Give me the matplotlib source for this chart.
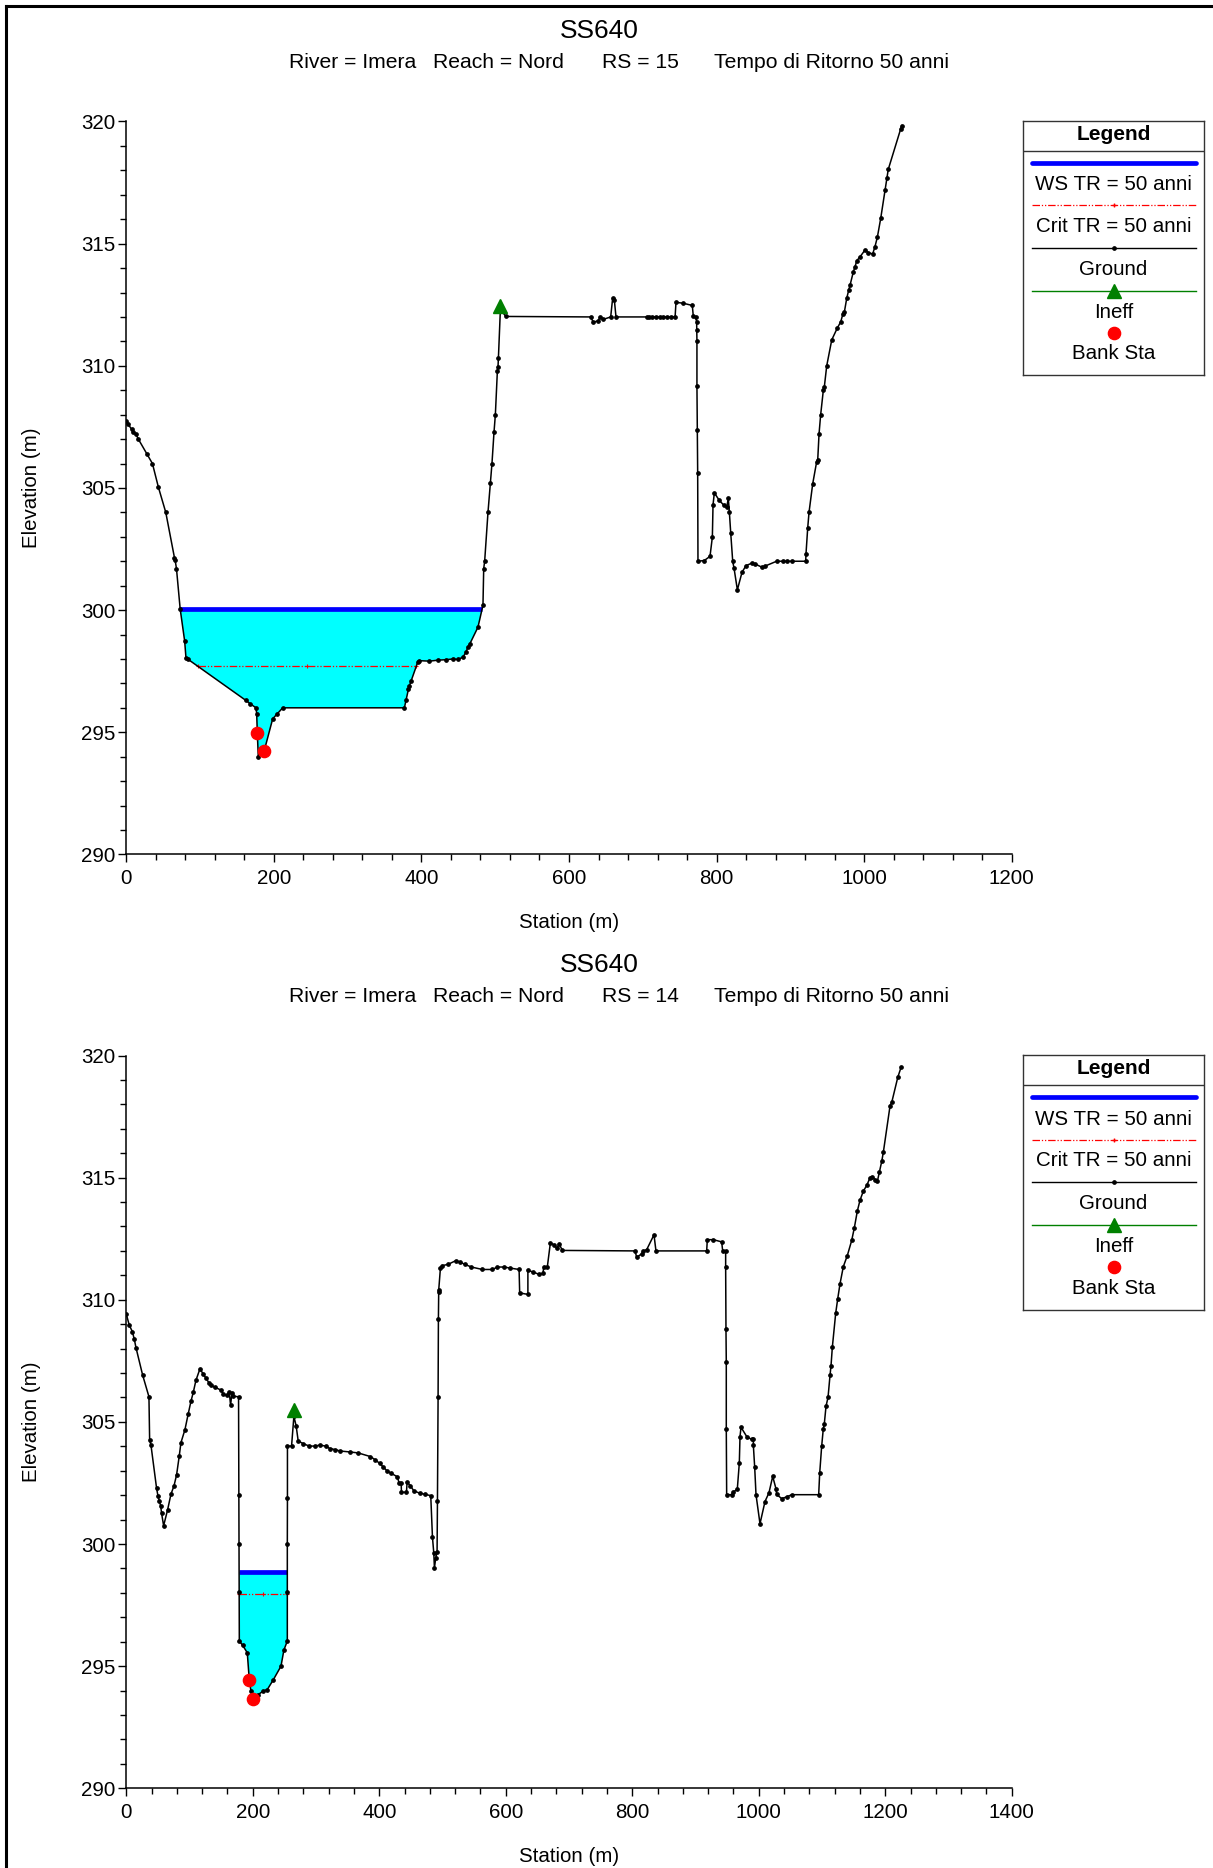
import numpy as np
import matplotlib
matplotlib.use("Agg")
import matplotlib.pyplot as plt
from matplotlib.lines import Line2D
from matplotlib.ticker import MultipleLocator

plt.rcParams['font.family'] = ['Liberation Sans', 'DejaVu Sans']

# ---------------- data ----------------
title = "SS640"
river_txt = "River = Imera"
reach_txt = "Reach = Nord"
event_txt = "Tempo di Ritorno 50 anni"
rs_labels = ["RS = 15", "RS = 14"]

legend_labels = ["WS TR = 50 anni", "Crit TR = 50 anni", "Ground", "Ineff", "Bank Sta"]

# RS 15 ground (station, elevation)
st15 = [0, 2.7, 7.3, 9.5, 13.2, 16.3, 27.7, 35.4, 43.5, 53.5, 65.3, 66.2, 68.0, 73.0,
        79.1, 80.9, 83.0, 162.2, 167.7, 175.8, 176.7, 177.6, 178.9, 187.0, 198.4, 204.7,
        212.0, 376.9, 379.1, 382.3, 383.7, 386.0, 395.0, 397.2, 410.9, 422.2, 433.6,
        442.6, 449.4, 456.2, 460.8, 463.0, 465.3, 476.6, 483.4, 484.4, 485.7, 490.2,
        493.4, 495.6, 498.4, 500.2, 502.9, 503.8, 504.3, 507.0, 514.6, 629.4, 633.0,
        639.8, 642.0, 646.5, 656.5, 659.2, 661.4, 663.7, 705.3, 708.0, 713.0, 718.0,
        723.0, 728.0, 733.0, 738.0, 743.8, 745.0, 754.9, 767.1, 768.5, 771.7, 773.0,
        773.2, 773.4, 773.4, 773.9, 774.4, 774.8, 783.4, 791.1, 794.3, 795.2, 797.0,
        803.7, 810.0, 813.7, 815.9, 817.3, 819.2, 821.9, 823.6, 828.2, 834.5, 839.9,
        847.6, 852.1, 861.1, 865.6, 881.4, 890.5, 896.0, 901.8, 920.8, 921.2, 923.5,
        925.3, 930.3, 935.7, 937.1, 938.9, 941.1, 944.7, 946.1, 949.3, 956.1, 963.7,
        968.3, 971.0, 973.2, 976.4, 979.1, 980.9, 985.4, 987.7, 990.0, 994.4, 1001.2,
        1005.7, 1011.6, 1014.7, 1017.9, 1022.5, 1028.3, 1031.0, 1032.7, 1049.5, 1050.9]
el15 = [307.74, 307.6, 307.4, 307.3, 307.2, 307.0, 306.4, 306.0, 305.03, 304.0, 302.14,
        302.04, 301.7, 300.05, 298.73, 298.03, 298.0, 296.3, 296.17, 296.0, 295.76,
        294.95, 293.98, 294.25, 295.55, 295.76, 296.0, 296.0, 296.3, 296.75, 296.9,
        297.1, 297.87, 297.93, 297.91, 297.95, 297.97, 298.0, 297.98, 298.07, 298.3,
        298.5, 298.6, 299.3, 300.2, 301.7, 302.0, 304.0, 305.2, 306.0, 307.3, 308.0,
        309.77, 309.97, 310.3, 312.3, 312.02, 312.0, 311.78, 311.85, 312.0, 311.9,
        312.0, 312.78, 312.71, 312.0, 312.0, 312.0, 312.0, 312.0, 312.0, 312.0, 312.0,
        312.0, 312.0, 312.6, 312.56, 312.47, 312.02, 312.0, 311.8, 311.46, 311.02,
        309.19, 307.39, 305.62, 302.0, 302.03, 302.2, 302.99, 304.31, 304.8, 304.49,
        304.29, 304.2, 304.57, 304.03, 303.15, 301.99, 301.73, 300.83, 301.55, 301.82,
        301.92, 301.89, 301.76, 301.8, 302.0, 302.0, 302.0, 302.0, 302.0, 302.3,
        303.35, 304.0, 305.17, 306.08, 306.15, 307.22, 308.0, 309.0, 309.15, 310.0,
        311.06, 311.55, 311.8, 312.1, 312.2, 312.76, 313.1, 313.3, 313.85, 314.06,
        314.3, 314.46, 314.74, 314.63, 314.58, 314.88, 315.26, 316.04, 317.18, 317.7,
        318.04, 319.7, 319.83]

# RS 14 ground
st14 = [0, 4.7, 9.5, 12.6, 15.3, 25.8, 35.8, 36.9, 39.0, 47.9, 50.0, 52.1, 54.3, 55.8,
        59.0, 65.3, 70.6, 75.4, 79.5, 83.7, 86.4, 92.7, 98.0, 102.2, 105.9, 110.1,
        116.4, 121.7, 125.9, 130.6, 133.2, 140.1, 149.1, 153.3, 158.5, 162.8, 164.9,
        167.0, 169.1, 177.5, 178.0, 178.3, 178.5, 178.7, 184.0, 191.3, 194.5, 197.2,
        200.8, 208.7, 216.6, 222.9, 232.4, 244.6, 249.2, 254.6, 254.6, 254.6, 254.8,
        254.8, 261.3, 265.0, 268.6, 271.8, 279.7, 289.2, 298.1, 306.0, 315.0, 321.8,
        329.7, 337.6, 353.4, 366.6, 386.1, 392.9, 400.8, 406.1, 412.4, 419.3, 428.8,
        431.4, 434.6, 435.1, 443.0, 444.0, 449.3, 454.6, 464.0, 471.9, 481.4, 484.1,
        486.2, 487.2, 489.3, 491.4, 492.0, 493.0, 493.5, 494.0, 494.0, 496.7, 499.9,
        508.8, 520.9, 527.3, 535.2, 545.7, 563.1, 578.9, 586.8, 597.3, 606.3, 621.1,
        622.0, 635.0, 635.0, 643.1, 652.6, 658.9, 660.0, 665.7, 670.5, 675.8, 681.1,
        684.2, 689.5, 804.4, 807.0, 814.9, 817.5, 822.8, 834.4, 837.5, 917.7, 918.7,
        928.2, 941.4, 943.0, 947.7, 947.7, 948.2, 948.7, 948.7, 949.3, 957.2, 959.8,
        966.1, 969.3, 970.4, 972.0, 981.0, 988.9, 991.5, 991.5, 993.6, 995.7, 1002.0,
        1009.9, 1016.2, 1022.1, 1027.3, 1028.4, 1036.3, 1044.2, 1052.1, 1094.8, 1096.4,
        1099.5, 1102.1, 1103.7, 1106.4, 1109.6, 1112.7, 1114.3, 1116.4, 1121.7, 1124.9,
        1128.5, 1133.8, 1140.1, 1147.0, 1151.2, 1155.9, 1160.1, 1165.4, 1170.8, 1176.0,
        1179.7, 1184.0, 1187.6, 1190.8, 1194.6, 1197.1, 1207.7, 1210.4, 1219.9, 1225.1]
el14 = [309.41, 308.96, 308.7, 308.39, 308.04, 306.92, 306.03, 304.26, 304.05, 302.28,
        301.98, 301.77, 301.57, 301.26, 300.75, 301.4, 302.04, 302.38, 302.83, 303.6,
        304.15, 304.68, 305.34, 305.84, 306.21, 306.7, 307.17, 306.96, 306.8, 306.6,
        306.5, 306.42, 306.31, 306.15, 306.09, 306.23, 305.68, 306.19, 306.05, 306.03,
        302.02, 300.01, 298.03, 296.03, 295.85, 295.55, 294.42, 293.97, 293.64, 293.84,
        293.98, 294.04, 294.44, 295.0, 295.66, 296.03, 298.03, 300.01, 301.87, 304.01,
        304.01, 305.23, 304.83, 304.22, 304.11, 304.01, 304.01, 304.05, 304.01, 303.91,
        303.87, 303.81, 303.77, 303.73, 303.58, 303.46, 303.3, 303.16, 302.99, 302.89,
        302.75, 302.48, 302.48, 302.12, 302.12, 302.53, 302.38, 302.18, 302.08, 302.04,
        301.98, 300.28, 299.63, 299.02, 299.43, 299.67, 301.77, 306.0, 309.2, 310.33,
        310.4, 311.3, 311.4, 311.45, 311.6, 311.55, 311.45, 311.34, 311.24, 311.24,
        311.34, 311.34, 311.3, 311.24, 310.28, 310.22, 311.2, 311.14, 311.04, 311.08,
        311.34, 311.34, 312.32, 312.26, 312.1, 312.3, 312.02, 312.0, 311.74, 311.88,
        312.0, 312.05, 312.66, 312.0, 312.0, 312.46, 312.46, 312.37, 312.0, 312.0,
        311.36, 308.81, 307.45, 304.72, 302.02, 302.02, 302.13, 302.24, 303.31, 304.4,
        304.78, 304.4, 304.28, 304.28, 304.04, 303.15, 302.02, 300.83, 301.74, 302.1,
        302.77, 302.26, 302.03, 301.86, 301.93, 302.02, 302.02, 302.9, 304.0, 304.72,
        304.92, 305.64, 306.01, 306.9, 307.3, 308.06, 309.45, 310.04, 310.65, 311.36,
        311.81, 312.43, 312.95, 313.63, 314.07, 314.45, 314.68, 315.0, 315.03, 314.92,
        314.85, 315.22, 315.68, 316.05, 317.95, 318.09, 319.11, 319.52]

ws_elev = [300.03, 298.86]
crit_elev = [297.70, 297.94]
bank_st = [[177.6, 187.0], [194.5, 200.8]]
bank_el = [[294.95, 294.25], [294.42, 293.64]]
ineff_st = [507.0, 265.0]
ineff_el = [312.45, 305.5]
xmax = [1200, 1400]

# ---------------- layout ----------------
W, H = 1213, 1868
fig = plt.figure(figsize=(W / 100, H / 100), dpi=100)

def fx(px):
    return px / W

def fy(py):
    return 1 - py / H

# window frame lines
fig.add_artist(Line2D([fx(6), 1], [fy(6), fy(6)], color='black', lw=2.2, transform=fig.transFigure))
fig.add_artist(Line2D([fx(6), fx(6)], [fy(6), 0], color='black', lw=2.2, transform=fig.transFigure))

ax_left, ax_right = 126.3, 1011.7
panels = [dict(top=121.5, bot=854.4, off=0.0), dict(top=1055.5, bot=1788.3, off=934.2)]
datasets = [(st15, el15), (st14, el14)]

FS = 14.8

def crossing(st, el, level, i0, step):
    i = i0
    while 0 <= i + step < len(st) and el[i + step] < level:
        i += step
    j = i + step
    if j < 0 or j >= len(st):
        return st[i], i
    x = st[i] + (level - el[i]) / (el[j] - el[i]) * (st[j] - st[i])
    return x, i

for k, p in enumerate(panels):
    st = np.array(datasets[k][0], dtype=float)
    el = np.array(datasets[k][1], dtype=float)
    ax = fig.add_axes([fx(ax_left), fy(p['bot']), fx(ax_right - ax_left), (p['bot'] - p['top']) / H])

    ws = ws_elev[k]
    cr = crit_elev[k]
    imin = int(np.argmin(el))
    xl, il = crossing(st, el, ws, imin, -1)
    xr, ir = crossing(st, el, ws, imin, +1)
    px = [xl] + list(st[il:ir + 1]) + [xr]
    py = [ws] + list(el[il:ir + 1]) + [ws]
    ax.fill(px, py, color='#00FFFF', lw=0, zorder=1)
    ax.plot([xl, xr], [ws, ws], color='#0000FF', lw=3.4, solid_capstyle='butt', zorder=3)

    cl, _ = crossing(st, el, cr, imin, -1)
    crr, _ = crossing(st, el, cr, imin, +1)
    ax.plot([cl, (cl + crr) / 2, crr], [cr, cr, cr], color='red', lw=0.9,
            linestyle=(0, (6, 1.5, 1, 1.5, 1, 1.5)), marker='+', ms=3.5, mew=0.8, zorder=3)

    ax.plot(st, el, color='black', lw=1.1, marker='o', ms=2.4, mfc='black', mec='black', zorder=4)
    ax.plot(bank_st[k], bank_el[k], linestyle='none', marker='o', ms=8.8, color='red', zorder=5)
    ax.plot([ineff_st[k]], [ineff_el[k]], linestyle='none', marker='^', ms=9.5, color='#008000', zorder=5)

    ax.set_xlim(0, xmax[k])
    ax.set_ylim(290, 320)
    ax.xaxis.set_major_locator(MultipleLocator(200))
    ax.xaxis.set_minor_locator(MultipleLocator(40))
    ax.yaxis.set_major_locator(MultipleLocator(5))
    ax.yaxis.set_minor_locator(MultipleLocator(1))
    for s in ['top', 'right']:
        ax.spines[s].set_visible(False)
    for s in ['left', 'bottom']:
        ax.spines[s].set_linewidth(1.1)
    ax.tick_params(which='major', direction='out', length=6, width=1.0, labelsize=FS, pad=4.5)
    ax.tick_params(which='minor', direction='out', length=4, width=1.0)
    ax.tick_params(axis='y', which='major', pad=2)

    ax.set_xlabel("Station (m)", fontsize=FS)
    ax.xaxis.set_label_coords(0.5, -(913 - 854.4) / 733)
    ax.set_ylabel("Elevation (m)", fontsize=FS)
    ax.yaxis.set_label_coords((41 - 126.3) / 885.4, 0.5)

    # titles
    off = p['off']
    fig.text(fx(599), fy(31 + off), title, fontsize=19, ha='center', va='center')
    ty = fy(62 + off)
    fig.text(fx(289), ty, river_txt, fontsize=15.2, ha='left', va='center')
    fig.text(fx(433), ty, reach_txt, fontsize=15.2, ha='left', va='center')
    fig.text(fx(601.5), ty, rs_labels[k], fontsize=15.2, ha='left', va='center')
    fig.text(fx(714), ty, event_txt, fontsize=15.2, ha='left', va='center')

    # legend box
    lt = 120.7 + off
    lb = lt + 254.6
    lg = fig.add_axes([fx(1022.7), fy(lb), fx(1204.3 - 1022.7), (lb - lt) / H])
    lg.set_xlim(0, 1)
    lg.set_ylim(0, 1)
    lg.set_xticks([])
    lg.set_yticks([])
    for s in lg.spines.values():
        s.set_linewidth(1.0)
        s.set_color('#333333')
    lg.text(0.5, 0.947, "Legend", fontsize=15, fontweight='bold', ha='center', va='center')
    lg.plot([0, 1], [0.8822, 0.8822], color='#333333', lw=1.0)
    lg.plot([0.05, 0.955], [0.835, 0.835], color='#0000FF', lw=3.4, solid_capstyle='round')
    lg.plot([0.05, 0.5, 0.955], [0.6677] * 3, color='red', lw=0.9,
            linestyle=(0, (6, 1.5, 1, 1.5, 1, 1.5)), marker='+', ms=3.5, markevery=[1])
    lg.plot([0.05, 0.5, 0.955], [0.5012] * 3, color='black', lw=1.0, marker='o', ms=2.4, markevery=[1])
    lg.plot([0.05, 0.5, 0.955], [0.3311] * 3, color='#008000', lw=1.0, marker='^', ms=9.5, markevery=[1])
    lg.plot([0.5], [0.165], marker='o', ms=8.8, color='red', linestyle='none')
    ys = [0.7541, 0.5903, 0.4226, 0.2525, 0.0903]
    for lab, yv in zip(legend_labels, ys):
        lg.text(0.5, yv - 0.006, lab, fontsize=14.8, ha='center', va='center')

fig.savefig("out.png", dpi=100)
